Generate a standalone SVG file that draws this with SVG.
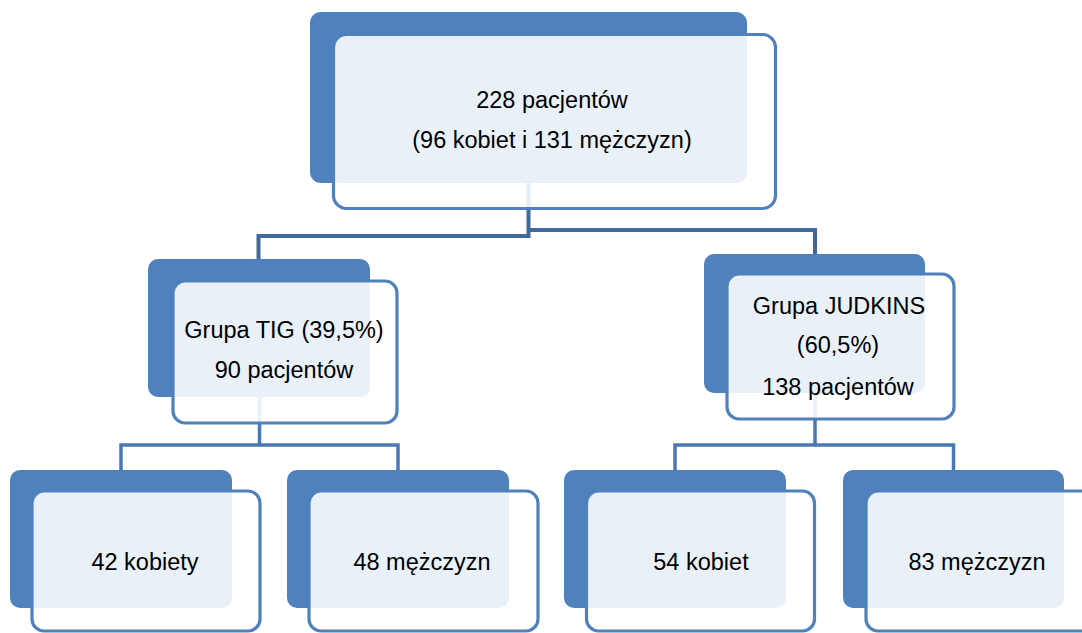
<svg xmlns="http://www.w3.org/2000/svg" width="1082" height="633" viewBox="0 0 1082 633">
<style>
.dark{fill:#4F81BD}
.light{fill:#FFFFFF;fill-opacity:0.88;stroke:#4F81BD;stroke-width:3.2}
.conn1{fill:none;stroke:#41699C;stroke-width:4}
.conn2{fill:none;stroke:#4A78B3;stroke-width:3.5}
text{font-family:"Liberation Sans",Arial,sans-serif;font-size:23.5px;fill:#000;text-anchor:middle}
</style>
<rect width="1082" height="633" fill="#FFFFFF"/>
<g id="connectors">
<path class="conn1" d="M528.5,183 V236 H258.5 V260"/>
<path class="conn1" d="M528.5,230 H815 V255"/>
<path class="conn2" d="M259.5,397 V445 H121 V470"/>
<path class="conn2" d="M259.5,445 H398 V470"/>
<path class="conn2" d="M815,393 V445 H675 V470"/>
<path class="conn2" d="M815,445 H953.5 V470"/>
</g>
<g id="node-root">
<rect class="dark" x="310" y="12" width="437" height="171" rx="11"/>
<rect class="light" x="333.5" y="34.5" width="442" height="174" rx="13"/>
<text x="552" y="108">228 pacjentów</text>
<text x="552" y="148">(96 kobiet i 131 mężczyzn)</text>
</g>
<g id="node-tig">
<rect class="dark" x="148" y="259" width="222" height="138" rx="10"/>
<rect class="light" x="173" y="281" width="224" height="142" rx="12"/>
<text x="284" y="338">Grupa TIG (39,5%)</text>
<text x="284" y="378">90 pacjentów</text>
</g>
<g id="node-judkins">
<rect class="dark" x="704" y="254" width="221" height="139" rx="10"/>
<rect class="light" x="727" y="274" width="227" height="145" rx="12"/>
<text x="839" y="314">Grupa JUDKINS</text>
<text x="838" y="353">(60,5%)</text>
<text x="838" y="395">138 pacjentów</text>
</g>
<g id="node-42k">
<rect class="dark" x="10" y="470" width="222" height="138" rx="10"/>
<rect class="light" x="32" y="491" width="228" height="140" rx="12"/>
<text x="145" y="570">42 kobiety</text>
</g>
<g id="node-48m">
<rect class="dark" x="287" y="470" width="222" height="138" rx="10"/>
<rect class="light" x="309" y="491" width="229" height="140" rx="12"/>
<text x="422" y="570">48 mężczyzn</text>
</g>
<g id="node-54k">
<rect class="dark" x="564" y="470" width="222" height="138" rx="10"/>
<rect class="light" x="586.5" y="491" width="228" height="140" rx="12"/>
<text x="701" y="570">54 kobiet</text>
</g>
<g id="node-83m">
<rect class="dark" x="843" y="470" width="221" height="138" rx="10"/>
<rect class="light" x="866" y="491" width="228" height="140" rx="12"/>
<text x="977" y="570">83 mężczyzn</text>
</g>
</svg>
